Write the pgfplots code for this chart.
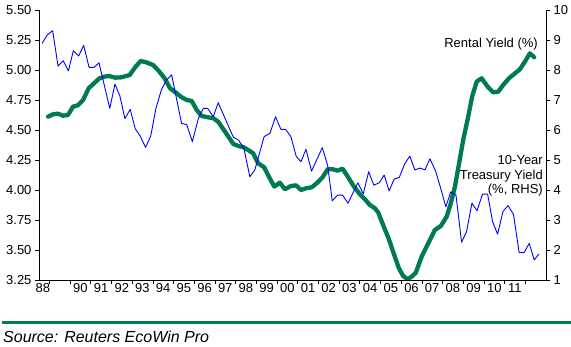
\documentclass[border=0pt]{standalone}
\usepackage{fontspec}
\setmainfont{Liberation Sans}
\usepackage{pgfplots}
\usepackage{pgfplotstable}
\pgfplotsset{compat=1.18}
\definecolor{rgreen}{RGB}{0,122,80}
\definecolor{tblue}{RGB}{0,0,255}

\pgfplotstableread{
x y
1988.94 4.611
1989.18 4.631
1989.42 4.636
1989.66 4.619
1989.90 4.625
1990.14 4.694
1990.38 4.706
1990.63 4.750
1990.90 4.848
1991.16 4.889
1991.40 4.928
1991.64 4.944
1991.88 4.950
1992.19 4.936
1992.48 4.939
1992.88 4.958
1993.17 5.028
1993.41 5.075
1993.68 5.064
1994.01 5.042
1994.28 4.994
1994.57 4.931
1994.83 4.848
1995.15 4.806
1995.39 4.773
1995.64 4.750
1995.88 4.742
1996.12 4.667
1996.36 4.617
1996.60 4.608
1996.92 4.598
1997.16 4.569
1997.49 4.486
1997.89 4.383
1998.13 4.367
1998.39 4.356
1998.61 4.333
1998.85 4.306
1999.09 4.222
1999.38 4.189
1999.61 4.111
1999.87 4.028
2000.14 4.061
2000.38 4.006
2000.67 4.033
2000.92 4.039
2001.16 4.000
2001.40 4.014
2001.67 4.022
2001.92 4.056
2002.19 4.103
2002.45 4.173
2002.69 4.173
2002.93 4.161
2003.17 4.178
2003.44 4.106
2003.72 4.028
2004.01 3.964
2004.25 3.923
2004.49 3.875
2004.73 3.848
2004.89 3.814
2005.13 3.708
2005.41 3.589
2005.65 3.467
2005.89 3.348
2006.10 3.283
2006.31 3.256
2006.51 3.278
2006.71 3.311
2006.99 3.444
2007.31 3.556
2007.63 3.667
2007.92 3.700
2008.20 3.778
2008.40 3.889
2008.60 4.028
2008.80 4.222
2009.00 4.417
2009.24 4.611
2009.43 4.778
2009.65 4.903
2009.89 4.931
2010.18 4.861
2010.45 4.814
2010.69 4.819
2010.93 4.875
2011.21 4.931
2011.50 4.972
2011.74 5.006
2011.98 5.069
2012.22 5.139
2012.43 5.106
}\rental

\pgfplotstableread{
x y
1988.65 8.89
1988.90 9.17
1989.16 9.31
1989.42 8.13
1989.67 8.31
1989.92 7.97
1990.16 8.64
1990.42 8.47
1990.66 8.82
1990.92 8.09
1991.16 8.09
1991.40 8.24
1991.92 6.72
1992.17 7.53
1992.41 7.13
1992.65 6.38
1992.91 6.69
1993.15 6.04
1993.39 5.80
1993.65 5.42
1993.90 5.80
1994.15 6.72
1994.41 7.33
1994.66 7.67
1994.91 7.84
1995.39 6.22
1995.64 6.18
1995.91 5.61
1996.20 6.38
1996.44 6.72
1996.65 6.72
1996.92 6.44
1997.16 6.91
1997.89 5.76
1998.13 5.67
1998.39 5.42
1998.69 4.44
1998.93 4.67
1999.38 5.78
1999.66 5.89
1999.93 6.44
2000.19 6.02
2000.42 6.02
2000.67 5.78
2000.93 5.12
2001.16 4.94
2001.40 5.36
2001.67 4.63
2002.19 5.41
2002.45 4.82
2002.67 3.64
2002.93 3.83
2003.17 3.83
2003.43 3.56
2003.91 4.24
2004.17 3.87
2004.43 4.61
2004.68 4.16
2004.94 4.24
2005.18 4.50
2005.42 3.97
2005.66 4.36
2005.91 4.42
2006.17 4.87
2006.42 5.13
2006.66 4.67
2006.92 4.73
2007.15 4.67
2007.39 5.04
2007.66 4.64
2007.92 4.04
2008.16 3.44
2008.40 3.94
2008.65 3.83
2008.92 2.26
2009.16 2.61
2009.42 3.56
2009.67 3.31
2009.93 3.86
2010.18 3.86
2010.42 2.94
2010.66 2.53
2010.92 3.28
2011.16 3.48
2011.43 3.19
2011.70 1.92
2011.94 1.91
2012.19 2.22
2012.43 1.67
2012.65 1.86
}\treasury

\begin{document}
\begin{tikzpicture}[x=1pt,y=1pt]
\useasboundingbox (0,0) rectangle (571,347);
\pgfplotsset{
  common/.style={
    at={(39pt,67pt)}, anchor=south west,
    scale only axis, width=507pt, height=270pt,
    xmin=1988.5, xmax=2013,
    axis line style={black, line width=0.8pt, -},
    tick align=outside,
    major tick length=4pt,
    tick style={black, line width=0.6pt},
    tick label style={font=\fontsize{13}{15}\selectfont},
    /pgf/number format/assume math mode=true,
  }
}
\begin{axis}[common,
  ymin=3.25, ymax=5.5,
  axis y line*=left, axis x line*=bottom,
  ytick={3.25,3.5,3.75,4,4.25,4.5,4.75,5,5.25,5.5},
  yticklabel style={/pgf/number format/.cd, fixed, fixed zerofill, precision=2},
  xtick={1989,1990,...,2012},
  xticklabels={},
  extra x ticks={1988.69,1990.5,1991.5,1992.5,1993.5,1994.5,1995.5,1996.5,1997.5,1998.5,1999.5,2000.5,2001.5,2002.5,2003.5,2004.5,2005.5,2006.5,2007.5,2008.5,2009.5,2010.5,2011.5},
  extra x tick labels={88,90,91,92,93,94,95,96,97,98,99,00,01,02,03,04,05,06,07,08,09,10,11},
  extra x tick style={major tick length=0pt},
]
\addplot[rgreen, line width=4.3pt, line join=round, line cap=round] table {\rental};
\end{axis}
\begin{axis}[common,
  ymin=1, ymax=10,
  axis y line*=right, axis x line=none,
  ytick={1,2,...,10},
]
\addplot[tblue, line width=0.9pt, line join=round] table {\treasury};
\end{axis}
\node[anchor=east, font=\fontsize{13}{15}\selectfont, inner sep=0pt] at (538,303) {Rental Yield (\%)};
\node[anchor=east, align=right, font=\fontsize{13}{14.5}\selectfont, inner sep=0pt] at (543,171) {10-Year\\Treasury Yield\\(\%, RHS)};
\draw[rgreen, line width=3pt] (2,24.7) -- (571,24.7);
\node[anchor=west, font=\fontsize{16}{18}\selectfont\itshape, inner sep=0pt] at (3,10) {Source: Reuters EcoWin Pro};
\end{tikzpicture}
\end{document}
